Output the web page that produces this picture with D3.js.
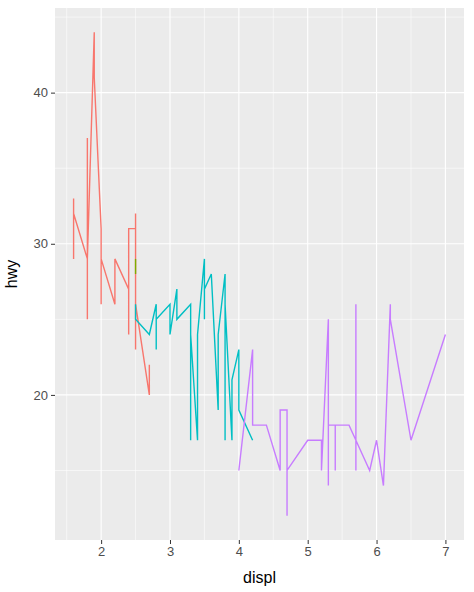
<!DOCTYPE html>
<html><head><meta charset="utf-8">
<script src="https://cdn.jsdelivr.net/npm/d3@7"></script>
<style>body{margin:0;background:#fff;font-family:"Liberation Sans",Arial,sans-serif}</style>
</head><body><div id="chart"></div>
<script>
var groupNames = ["4", "5", "6", "8"];
var groupColors = ["#F8766D", "#7CAE00", "#00BFC4", "#C77CFF"];
var cyl4 = [[1.6,33],[1.6,29],[1.6,32],[1.8,29],[1.8,25],[1.8,37],[1.8,29],[1.9,44],[1.9,41],[2.0,31],[2.0,26],[2.0,29],[2.2,26],[2.2,29],[2.4,27],[2.4,24],[2.4,31],[2.5,31],[2.5,32],[2.5,23],[2.5,26],[2.7,20],[2.7,22]];
var cyl5 = [[2.5,28],[2.5,29]];
var cyl6 = [[2.5,26],[2.5,25],[2.7,24],[2.8,26],[2.8,23],[2.8,25],[3.0,26],[3.0,24],[3.1,27],[3.1,25],[3.3,26],[3.3,17],[3.3,24],[3.4,17],[3.4,24],[3.5,29],[3.5,25],[3.5,27],[3.6,28],[3.7,19],[3.7,24],[3.8,28],[3.8,17],[3.8,26],[3.9,17],[3.9,21],[4.0,23],[4.0,19],[4.2,17]];
var cyl8 = [[4.0,15],[4.2,23],[4.2,18],[4.4,18],[4.6,15],[4.6,19],[4.7,19],[4.7,12],[4.7,15],[5.0,17],[5.2,17],[5.2,15],[5.3,25],[5.3,14],[5.3,18],[5.4,18],[5.4,15],[5.4,18],[5.6,18],[5.7,17],[5.7,26],[5.7,15],[5.7,17],[5.9,15],[6.0,17],[6.1,14],[6.2,26],[6.2,25],[6.5,17],[7.0,24]];
var groups = [cyl4, cyl5, cyl6, cyl8];
var xTicks = [2, 3, 4, 5, 6, 7];
var yTicks = [20, 30, 40];

var W = 474, H = 592;
var margin = {top: 8, right: 10, bottom: 52, left: 55};
var w = W - margin.left - margin.right, h = H - margin.top - margin.bottom;

var svg = d3.select("#chart").append("svg").attr("width", W).attr("height", H)
  .append("g").attr("transform", "translate(" + margin.left + "," + margin.top + ")");

var x = d3.scaleLinear().domain([1.33, 7.27]).range([0, w]);
var y = d3.scaleLinear().domain([10.4, 45.6]).range([h, 0]);

svg.append("rect").attr("width", w).attr("height", h).attr("fill", "#EBEBEB");

var xMinor = [1.5, 2.5, 3.5, 4.5, 5.5, 6.5], yMinor = [15, 25, 35, 45];
svg.selectAll(".xm").data(xMinor).enter().append("line")
  .attr("x1", x).attr("x2", x).attr("y1", 0).attr("y2", h).attr("stroke", "#fff").attr("stroke-width", 0.55);
svg.selectAll(".ym").data(yMinor).enter().append("line")
  .attr("y1", y).attr("y2", y).attr("x1", 0).attr("x2", w).attr("stroke", "#fff").attr("stroke-width", 0.55);
svg.selectAll(".xg").data(xTicks).enter().append("line")
  .attr("x1", x).attr("x2", x).attr("y1", 0).attr("y2", h).attr("stroke", "#fff").attr("stroke-width", 1.1);
svg.selectAll(".yg").data(yTicks).enter().append("line")
  .attr("y1", y).attr("y2", y).attr("x1", 0).attr("x2", w).attr("stroke", "#fff").attr("stroke-width", 1.1);

var line = d3.line().x(function(d) { return x(d[0]); }).y(function(d) { return y(d[1]); });
groups.forEach(function(g, i) {
  svg.append("path").datum(g).attr("d", line).attr("fill", "none")
    .attr("stroke", groupColors[i]).attr("stroke-width", 1.4);
});

var xAxis = svg.append("g").attr("transform", "translate(0," + h + ")")
  .call(d3.axisBottom(x).tickValues(xTicks).tickSize(4).tickPadding(3).tickFormat(d3.format("d")));
var yAxis = svg.append("g")
  .call(d3.axisLeft(y).tickValues(yTicks).tickSize(4).tickPadding(3));
[xAxis, yAxis].forEach(function(a) {
  a.select(".domain").remove();
  a.selectAll("line").attr("stroke", "#333");
  a.selectAll("text").attr("fill", "#4D4D4D").style("font-size", "13px").style("font-family", "Liberation Sans, Arial, sans-serif");
});

svg.append("text").attr("x", w / 2).attr("y", h + 43).attr("text-anchor", "middle")
  .style("font-size", "16px").text("displ");
svg.append("text").attr("transform", "translate(-38," + (h / 2) + ") rotate(-90)")
  .attr("text-anchor", "middle").style("font-size", "16px").text("hwy");
</script></body></html>
